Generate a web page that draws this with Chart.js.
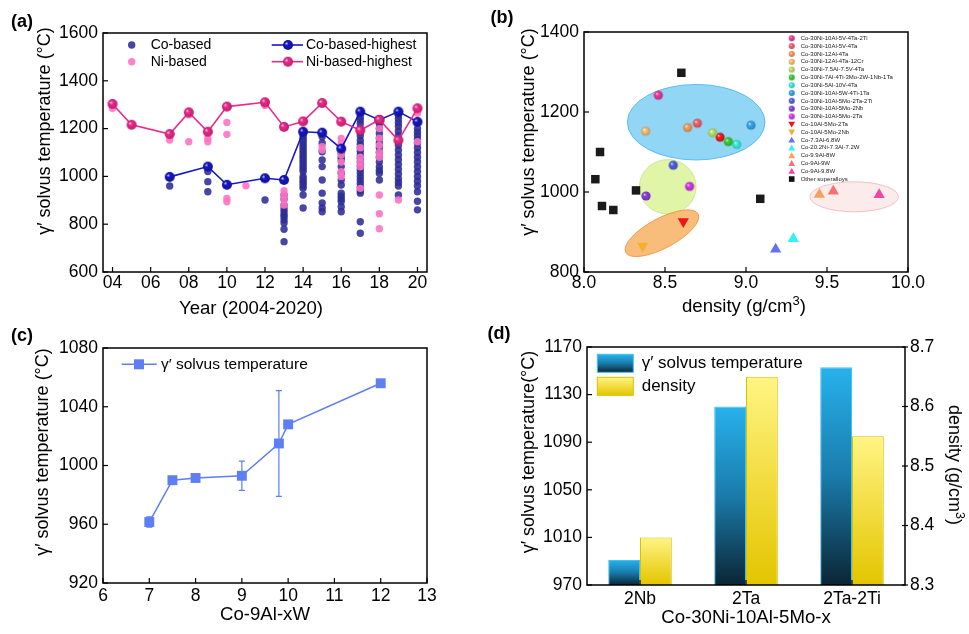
<!DOCTYPE html>
<html>
<head>
<meta charset="utf-8">
<script src="https://cdn.jsdelivr.net/npm/chart.js"></script>
<style>
html,body{margin:0;padding:0;background:#fff}
body{width:969px;height:634px;position:relative;overflow:hidden;font-family:"Liberation Sans",Arial,Helvetica,sans-serif;color:#000}
canvas{position:absolute}
.c{position:absolute;white-space:nowrap;transform:translate(-50%,-50%);font-size:18px;line-height:1}
.x{font-size:18.6px}
.v{transform:translate(-50%,-50%) rotate(-90deg)}
.v2{transform:translate(-50%,-50%) rotate(90deg)}
.b{font-weight:bold}
sup{font-size:0.7em;vertical-align:0.55em;line-height:0}
</style>
</head>
<body>
<canvas id="ca" width="484" height="317" style="left:0px;top:0px"></canvas>
<canvas id="cb" width="485" height="317" style="left:484px;top:0px"></canvas>
<canvas id="cc" width="484" height="317" style="left:0px;top:317px"></canvas>
<canvas id="cd" width="485" height="317" style="left:484px;top:317px"></canvas>

<div class="c b" style="left:22px;top:21px">(a)</div>
<div class="c b" style="left:502px;top:17px">(b)</div>
<div class="c b" style="left:22px;top:335px">(c)</div>
<div class="c b" style="left:499px;top:333px">(d)</div>

<div class="c v" style="left:44px;top:131px">γ′ solvus temperature (°C)</div>
<div class="c x" style="left:251px;top:308px">Year (2004-2020)</div>
<div class="c v" style="left:528px;top:132px">γ′ solvus temperature (°C)</div>
<div class="c x" style="left:744px;top:306px">density (g/cm<sup>3</sup>)</div>
<div class="c v" style="left:42px;top:452px">γ′ solvus temperature (°C)</div>
<div class="c x" style="left:265px;top:614px">Co-9Al-xW</div>
<div class="c v" style="left:528px;top:452px">γ′ solvus temperature(°C)</div>
<div class="c v2" style="left:955px;top:465px">density (g/cm<sup>3</sup>)</div>
<div class="c x" style="left:746px;top:617px">Co-30Ni-10Al-5Mo-x</div>

<script>
// ================= DATA =================
// (a) year vs temperature
const yearTicks = [4, 6, 8, 10, 12, 14, 16, 18, 20];
const tempTicksA = [600, 800, 1000, 1200, 1400, 1600];
const coBasedYears = [7, 9, 12, 13, 14, 15, 16, 17, 18, 19, 20];
const coBasedTemps = [
  [960],
  [1020, 978, 936],
  [901],
  [922, 905, 880, 865, 852, 840, 831, 818, 805, 779, 727],
  [1170, 1160, 1150, 1140, 1130, 1120, 1110, 1100, 1090, 1080, 1070, 1060, 1050, 1040, 1030, 1020, 1000, 990, 980, 970, 960, 950, 922, 868],
  [1166, 1140, 1103, 1069, 1041, 985, 930, 889, 868, 852],
  [1097, 1080, 1069, 1041, 1013, 985, 964, 930, 917, 905, 895, 873, 852],
  [1250, 1236, 1220, 1200, 1185, 1170, 1150, 1135, 1120, 1105, 1090, 1075, 1060, 1045, 1030, 1015, 1000, 985, 970, 955, 940, 930, 810, 762],
  [1220, 1200, 1180, 1160, 1140, 1120, 1100, 1080, 1060, 1040, 1025, 1013, 985],
  [1255, 1240, 1225, 1210, 1190, 1170, 1150, 1130, 1110, 1090, 1070, 1050, 1030, 1010, 990, 975, 960, 922],
  [1200, 1185, 1170, 1155, 1140, 1120, 1100, 1080, 1060, 1040, 1020, 1000, 980, 960, 936, 896, 860]
];
const niBasedYears = [4, 7, 8, 9, 10, 11, 12, 13, 15, 16, 17, 18, 19, 20];
const niBasedTemps = [
  [1285], [1152], [1258, 1145], [1159, 1145], [1226, 1176, 908, 894], [961], [1297],
  [940, 922, 901, 880], [1124, 1110], [1159, 1138, 1110, 1090, 1060, 1020, 1000],
  [1195, 1120, 1080, 1060, 1040, 950], [1200, 1160, 1130, 1100, 1080, 922, 844, 781], [901], [1264, 1145]
];
const coHighYears = [7, 9, 10, 12, 13, 14, 15, 16, 17, 18, 19, 20];
const coHighTemps = [998, 1041, 965, 992, 985, 1187, 1183, 1116, 1271, 1236, 1271, 1228];
const niHighYears = [4, 5, 7, 8, 9, 10, 12, 13, 14, 15, 16, 17, 18, 19, 20];
const niHighTemps = [1303, 1216, 1177, 1268, 1187, 1292, 1310, 1207, 1230, 1307, 1229, 1193, 1237, 1151, 1285];

// (b) density vs temperature
const densityTicks = [8.0, 8.5, 9.0, 9.5, 10.0];
const tempTicksB = [800, 1000, 1200, 1400];
const alloyNames = [
  'Co-30Ni-10Al-5V-4Ta-2Ti', 'Co-30Ni-10Al-5V-4Ta', 'Co-30Ni-12Al-4Ta', 'Co-30Ni-12Al-4Ta-12Cr',
  'Co-30Ni-7.5Al-7.5V-4Ta', 'Co-30Ni-7Al-4Ti-3Mo-2W-1Nb-1Ta', 'Co-30Ni-5Al-10V-4Ta', 'Co-30Ni-10Al-5W-4Ti-1Ta',
  'Co-30Ni-10Al-5Mo-2Ta-2Ti', 'Co-30Ni-10Al-5Mo-2Nb', 'Co-30Ni-10Al-5Mo-2Ta', 'Co-10Al-5Mo-2Ta',
  'Co-10Al-5Mo-2Nb', 'Co-7.3Al-6.8W', 'Co-20.2Ni-7.3Al-7.2W', 'Co-9.9Al-8W', 'Co-9Al-9W', 'Co-9Al-9.8W'
];
const alloyDensity = [8.459, 8.70, 8.64, 8.381, 8.794, 8.891, 8.943, 9.031, 8.551, 8.383, 8.652, 8.613, 8.362, 9.183, 9.292, 9.453, 9.539, 9.822];
const alloyTemp = [1242, 1172, 1161, 1152, 1148, 1126, 1119, 1167, 1067, 990, 1014, 926, 865, 857, 883, 994, 1002, 993];
const extraDensity = [8.84];
const extraTemp = [1137];
const otherName = 'Other superalloys';
const otherDensity = [8.601, 8.099, 8.070, 8.111, 8.181, 8.321, 9.088];
const otherTemp = [1298, 1100, 1032, 965, 955, 1004, 983];
// highlight ellipses: centre (density, temp), half-axes (density, temp)
const ellipseCx = [8.6925, 8.517, 9.668];
const ellipseCy = [1174.5, 1013, 988];
const ellipseRx = [0.4247, 0.175, 0.273];
const ellipseRy = [94.5, 68, 37.5];
const tiltedCx = 8.481, tiltedCy = 897;

// (c) W content vs temperature
const wTicks = [6, 7, 8, 9, 10, 11, 12, 13];
const tempTicksC = [920, 960, 1000, 1040, 1080];
const wContent = [7, 7.5, 8, 9, 9.8, 10, 12];
const wTemp = [961.5, 990, 991.5, 993, 1015, 1028, 1056];
const wErr = [3.5, 0, 0, 10, 36, 0, 0];

// (d) bars
const dCats = ['2Nb', '2Ta', '2Ta-2Ti'];
const dTemp = [991, 1120, 1153];
const dDensity = [8.38, 8.65, 8.55];
const tempTicksD = [970, 1010, 1050, 1090, 1130, 1170];
const densTicksD = [8.3, 8.4, 8.5, 8.6, 8.7];

// ================= STYLE HELPERS =================
const FONT = '"Liberation Sans", Arial, Helvetica, sans-serif';
const TICK_SIZE = 17.5;
Chart.defaults.font.family = FONT;
Chart.defaults.font.size = TICK_SIZE;
Chart.defaults.color = '#000';

function rgb(hex) { const n = parseInt(hex.slice(1), 16); return [n >> 16, (n >> 8) & 255, n & 255]; }
function shade(hex, f) { const [r, g, b] = rgb(hex); return `rgb(${Math.round(r*f)},${Math.round(g*f)},${Math.round(b*f)})`; }
function tint(hex, t) { const [r, g, b] = rgb(hex); return `rgb(${Math.round(r+(255-r)*t)},${Math.round(g+(255-g)*t)},${Math.round(b+(255-b)*t)})`; }
function sphere(hex, r) {
  const s = Math.ceil(2 * r) + 2;
  const c = document.createElement('canvas'); c.width = c.height = s;
  const g = c.getContext('2d'); const m = s / 2;
  const gr = g.createRadialGradient(m - r * 0.38, m - r * 0.38, 0, m, m, r);
  gr.addColorStop(0, tint(hex, 0.9));
  gr.addColorStop(0.35, hex);
  gr.addColorStop(1, shade(hex, 0.78));
  g.fillStyle = gr; g.beginPath(); g.arc(m, m, r, 0, Math.PI * 2); g.fill();
  return c;
}
function pts(xs, ys) { return xs.map((x, i) => ({ x, y: ys[i] })); }
function groupPts(xs, groups) { const o = []; xs.forEach((x, i) => groups[i].forEach(y => o.push({ x, y }))); return o; }

function linAxis(min, max, ticks, fmt, size, pad, extra) {
  return Object.assign({
    type: 'linear', min, max,
    grid: { display: false, drawTicks: false },
    border: { display: false },
    ticks: { padding: pad, color: '#000', font: { size: TICK_SIZE }, callback: fmt, autoSkip: false, maxRotation: 0, minRotation: 0 },
    afterBuildTicks: s => { s.ticks = ticks.map(v => ({ value: v })); },
    afterFit: s => {
      if (s.isHorizontal()) s.height = size; else s.width = size;
      s.paddingLeft = s.paddingRight = s.paddingTop = s.paddingBottom = 0;
    }
  }, extra || {});
}

const frameTicks = {
  id: 'frameTicks',
  afterDraw(chart) {
    const { ctx, chartArea: a } = chart;
    ctx.save();
    ctx.strokeStyle = '#000'; ctx.lineWidth = 1.5;
    ctx.strokeRect(a.left, a.top, a.right - a.left, a.bottom - a.top);
    ctx.lineWidth = 1.2;
    Object.values(chart.scales).forEach(s => {
      s.ticks.forEach((t, i) => {
        const p = s.getPixelForTick(i);
        ctx.beginPath();
        if (s.isHorizontal()) { ctx.moveTo(p, a.bottom); ctx.lineTo(p, a.bottom - 5); }
        else if (s.position === 'left') { ctx.moveTo(a.left, p); ctx.lineTo(a.left + 5, p); }
        else { ctx.moveTo(a.right - 3, p); ctx.lineTo(a.right + 3, p); }
        ctx.stroke();
      });
    });
    ctx.restore();
  }
};

const baseOpts = (pad) => ({
  responsive: false, animation: false, devicePixelRatio: 1,
  layout: { padding: pad },
  plugins: { legend: { display: false }, tooltip: { enabled: false } },
  events: []
});

// ================= (a) =================
const CO_LINE = '#1616c4', NI_LINE = '#f0288c', CO_DOT = 'rgba(45,45,150,0.88)', NI_DOT = 'rgba(255,115,195,0.9)';
const coSphere = sphere(CO_LINE, 5), niSphere = sphere(NI_LINE, 5);
new Chart(document.getElementById('ca'), {
  type: 'scatter',
  data: { datasets: [
    { label: 'Ni-based-highest', data: pts(niHighYears, niHighTemps), showLine: true, borderColor: NI_LINE, borderWidth: 1.6, pointStyle: niSphere, pointRadius: 5, order: 0 },
    { label: 'Co-based-highest', data: pts(coHighYears, coHighTemps), showLine: true, borderColor: CO_LINE, borderWidth: 1.6, pointStyle: coSphere, pointRadius: 5, order: 1 },
    { label: 'Ni-based', data: groupPts(niBasedYears, niBasedTemps), backgroundColor: NI_DOT, borderWidth: 0, pointRadius: 3.7, order: 2 },
    { label: 'Co-based', data: groupPts(coBasedYears, coBasedTemps), backgroundColor: CO_DOT, borderWidth: 0, pointRadius: 3.7, order: 3 }
  ] },
  options: Object.assign(baseOpts({ left: 0, top: 33, right: 57, bottom: 0 }), {
    scales: {
      x: linAxis(3.5, 20.5, yearTicks, v => String(v).padStart(2, '0'), 45, 1),
      y: linAxis(600, 1600, tempTicksA, v => v, 103, 5)
    }
  }),
  plugins: [frameTicks, {
    id: 'legA',
    afterDraw(chart) {
      const ctx = chart.ctx; ctx.save();
      ctx.font = '14px ' + FONT; ctx.textBaseline = 'middle';
      ctx.fillStyle = CO_DOT; ctx.beginPath(); ctx.arc(131.7, 45, 3.7, 0, 7); ctx.fill();
      ctx.fillStyle = NI_DOT; ctx.beginPath(); ctx.arc(131.7, 61.7, 3.7, 0, 7); ctx.fill();
      ctx.fillStyle = '#000';
      ctx.fillText('Co-based', 150.7, 45); ctx.fillText('Ni-based', 150.7, 61.7);
      [[CO_LINE, coSphere, 45, 'Co-based-highest'], [NI_LINE, niSphere, 61.7, 'Ni-based-highest']].forEach(([col, img, y, txt]) => {
        ctx.strokeStyle = col; ctx.lineWidth = 1.6;
        ctx.beginPath(); ctx.moveTo(271.7, y); ctx.lineTo(303, y); ctx.stroke();
        ctx.drawImage(img, 288 - img.width / 2, y - img.height / 2);
        ctx.fillStyle = '#000'; ctx.fillText(txt, 306, y);
      });
      ctx.restore();
    }
  }]
});

// ================= (b) =================
const alloyColors = ['#f0389e', '#f26470', '#f5a062', '#f6c27a', '#bde46a', '#38d038', '#38f0e0', '#36a8f2',
  '#5262ea', '#8a3ee2', '#d636f2', '#f01414', '#f2b030', '#6272f0', '#30f2f2', '#f7a060', '#f27272', '#f444a6'];
const alloyKinds = ['s','s','s','s','s','s','s','s','s','s','s','down','down','up','up','up','up','up'];
const EXTRA_COLOR = '#ee1c1c';
const sphB = alloyColors.map(c => sphere(c, 4.6));
const sphLeg = alloyColors.map(c => sphere(c, 3));
const bSets = alloyNames.map((n, i) => {
  const k = alloyKinds[i];
  const d = { label: n, data: [{ x: alloyDensity[i], y: alloyTemp[i] }], borderWidth: 0, backgroundColor: alloyColors[i] };
  if (k === 's') { d.pointStyle = sphB[i]; d.pointRadius = 4.6; }
  else { d.pointStyle = 'triangle'; d.pointRadius = 6.5; d.rotation = k === 'down' ? 180 : 0; }
  return d;
});
bSets.push({ label: '', data: pts(extraDensity, extraTemp), pointStyle: sphere(EXTRA_COLOR, 4.6), pointRadius: 4.6, borderWidth: 0 });
bSets.push({ label: otherName, data: pts(otherDensity, otherTemp), pointStyle: 'rect', pointRadius: 6, backgroundColor: '#1a1a1a', borderWidth: 0 });

new Chart(document.getElementById('cb'), {
  type: 'scatter',
  data: { datasets: bSets },
  options: Object.assign(baseOpts({ left: 0, top: 32, right: 61, bottom: 0 }), {
    scales: {
      x: linAxis(8, 10, densityTicks, v => Number(v).toFixed(1), 45, 1),
      y: linAxis(800, 1400, tempTicksB, v => v, 100, 5)
    }
  }),
  plugins: [{
    id: 'ellipses',
    beforeDatasetsDraw(chart) {
      const { ctx, scales: { x, y } } = chart;
      const fills = ['rgba(110,200,242,0.75)', 'rgba(222,244,160,0.9)', 'rgba(250,222,222,0.6)'];
      const strokes = ['rgba(70,175,235,0.8)', 'rgba(200,232,140,0.9)', 'rgba(240,170,170,0.7)'];
      ctx.save();
      ellipseCx.forEach((cx, i) => {
        const px = x.getPixelForValue(cx), py = y.getPixelForValue(ellipseCy[i]);
        const rx = Math.abs(x.getPixelForValue(cx + ellipseRx[i]) - px);
        const ry = Math.abs(y.getPixelForValue(ellipseCy[i] + ellipseRy[i]) - py);
        ctx.beginPath(); ctx.ellipse(px, py, rx, ry, 0, 0, Math.PI * 2);
        ctx.fillStyle = fills[i]; ctx.fill(); ctx.lineWidth = 1; ctx.strokeStyle = strokes[i]; ctx.stroke();
      });
      const tx = x.getPixelForValue(tiltedCx), ty = y.getPixelForValue(tiltedCy);
      ctx.beginPath(); ctx.ellipse(tx, ty, 41, 15, -28 * Math.PI / 180, 0, Math.PI * 2);
      ctx.fillStyle = 'rgba(247,178,100,0.85)'; ctx.fill(); ctx.strokeStyle = 'rgba(240,150,70,0.9)'; ctx.stroke();
      ctx.restore();
    }
  }, frameTicks, {
    id: 'legB',
    afterDraw(chart) {
      const ctx = chart.ctx; ctx.save();
      ctx.font = '6px ' + FONT; ctx.textBaseline = 'middle';
      const names = alloyNames.concat([otherName]);
      names.forEach((n, i) => {
        const y = 38.3 + i * 7.82, x = 307.7;
        const k = i < alloyKinds.length ? alloyKinds[i] : 'sq';
        if (k === 's') { const im = sphLeg[i]; ctx.drawImage(im, x - im.width / 2, y - im.height / 2); }
        else if (k === 'up' || k === 'down') {
          ctx.fillStyle = alloyColors[i]; ctx.beginPath();
          if (k === 'up') { ctx.moveTo(x, y - 3.3); ctx.lineTo(x + 3.4, y + 2.6); ctx.lineTo(x - 3.4, y + 2.6); }
          else { ctx.moveTo(x, y + 3.3); ctx.lineTo(x + 3.4, y - 2.6); ctx.lineTo(x - 3.4, y - 2.6); }
          ctx.closePath(); ctx.fill();
        } else { ctx.fillStyle = '#111'; ctx.fillRect(x - 2.8, y - 2.8, 5.6, 5.6); }
        ctx.fillStyle = '#222'; ctx.fillText(n, 316.7, y);
      });
      ctx.restore();
    }
  }]
});

// ================= (c) =================
const C_COL = '#5e7ef4';
new Chart(document.getElementById('cc'), {
  type: 'scatter',
  data: { datasets: [{ label: 'γ′ solvus temperature', data: pts(wContent, wTemp), showLine: true, borderColor: C_COL, backgroundColor: C_COL, borderWidth: 1.5, pointStyle: 'rect', pointRadius: 7, pointBorderWidth: 0 }] },
  options: Object.assign(baseOpts({ left: 0, top: 31, right: 57, bottom: 0 }), {
    scales: {
      x: linAxis(6, 13, wTicks, v => v, 51, 3),
      y: linAxis(920, 1080, tempTicksC, v => v, 103, 5)
    }
  }),
  plugins: [{
    id: 'errBars',
    beforeDatasetsDraw(chart) {
      const { ctx, scales: { x, y } } = chart; ctx.save();
      ctx.strokeStyle = C_COL; ctx.lineWidth = 1.2;
      wContent.forEach((w, i) => {
        if (!wErr[i]) return;
        const px = x.getPixelForValue(w), y1 = y.getPixelForValue(wTemp[i] - wErr[i]), y2 = y.getPixelForValue(wTemp[i] + wErr[i]);
        ctx.beginPath(); ctx.moveTo(px, y1); ctx.lineTo(px, y2);
        ctx.moveTo(px - 3, y1); ctx.lineTo(px + 3, y1); ctx.moveTo(px - 3, y2); ctx.lineTo(px + 3, y2); ctx.stroke();
      });
      ctx.restore();
    }
  }, frameTicks, {
    id: 'legC',
    afterDraw(chart) {
      const ctx = chart.ctx; ctx.save();
      const y = 47.3;
      ctx.strokeStyle = C_COL; ctx.lineWidth = 1.5;
      ctx.beginPath(); ctx.moveTo(121.7, y); ctx.lineTo(156.7, y); ctx.stroke();
      ctx.fillStyle = C_COL; ctx.fillRect(139 - 5, y - 5, 10, 10);
      ctx.fillStyle = '#000'; ctx.font = '15.5px ' + FONT; ctx.textBaseline = 'middle';
      ctx.fillText('γ′ solvus temperature', 161, y);
      ctx.restore();
    }
  }]
});

// ================= (d) =================
const BLUE_STOPS = [[0, '#27b2ec'], [0.5, '#1a7bab'], [1, '#0b2535']];
const YEL_STOPS = [[0, '#fff584'], [0.5, '#f2dc40'], [1, '#e3c500']];
function barGrad(stops, fallback) {
  return (c) => {
    const ch = c.chart, a = ch.chartArea;
    if (!a || c.type !== 'data') return fallback;
    const sc = ch.scales[c.dataset.yAxisID];
    const top = sc.getPixelForValue(c.raw);
    const g = ch.ctx.createLinearGradient(0, top, 0, a.bottom);
    stops.forEach(([o, col]) => g.addColorStop(o, col));
    return g;
  };
}
const catAxis = {
  type: 'category', labels: dCats, offset: true,
  grid: { display: false, drawTicks: false }, border: { display: false },
  ticks: { padding: 4, color: '#000', font: { size: TICK_SIZE }, maxRotation: 0 },
  afterFit: s => { s.height = 49; s.paddingLeft = s.paddingRight = 0; }
};
const chD = new Chart(document.getElementById('cd'), {
  type: 'bar',
  data: { labels: dCats, datasets: [
    { label: 'γ′ solvus temperature', data: dTemp, yAxisID: 'y', backgroundColor: barGrad(BLUE_STOPS, '#1a7bab'), borderColor: '#3cc4f4', borderWidth: 1, categoryPercentage: 0.6, barPercentage: 1.0 },
    { label: 'density', data: dDensity, yAxisID: 'y2', backgroundColor: barGrad(YEL_STOPS, '#f2dc40'), borderColor: '#dcc000', borderWidth: 1, categoryPercentage: 0.6, barPercentage: 1.0 }
  ] },
  options: Object.assign(baseOpts({ left: 0, top: 30, right: 0, bottom: 0 }), {
    scales: {
      x: catAxis,
      y: linAxis(970, 1170, tempTicksD, v => v, 103, 5, { position: 'left' }),
      y2: linAxis(8.3, 8.7, densTicksD, v => Number(v).toFixed(1), 64, 5, { position: 'right' })
    }
  }),
  plugins: [frameTicks, {
    id: 'legD',
    afterDraw(chart) {
      const ctx = chart.ctx; ctx.save();
      const boxes = [[37.3, BLUE_STOPS, '#3cc4f4', 'γ′ solvus temperature'], [60.3, YEL_STOPS, '#dcc000', 'density']];
      boxes.forEach(([y, stops, bc, txt]) => {
        const g = ctx.createLinearGradient(0, y, 0, y + 18);
        stops.forEach(([o, col]) => g.addColorStop(o, col));
        ctx.fillStyle = g; ctx.fillRect(113.3, y, 36, 18);
        ctx.strokeStyle = bc; ctx.lineWidth = 1; ctx.strokeRect(113.3, y, 36, 18);
        ctx.fillStyle = '#000'; ctx.font = '17px ' + FONT; ctx.textBaseline = 'middle';
        ctx.fillText(txt, 157.7, y + 9);
      });
      ctx.restore();
    }
  }]
});
chD.update();
</script>
</body>
</html>
